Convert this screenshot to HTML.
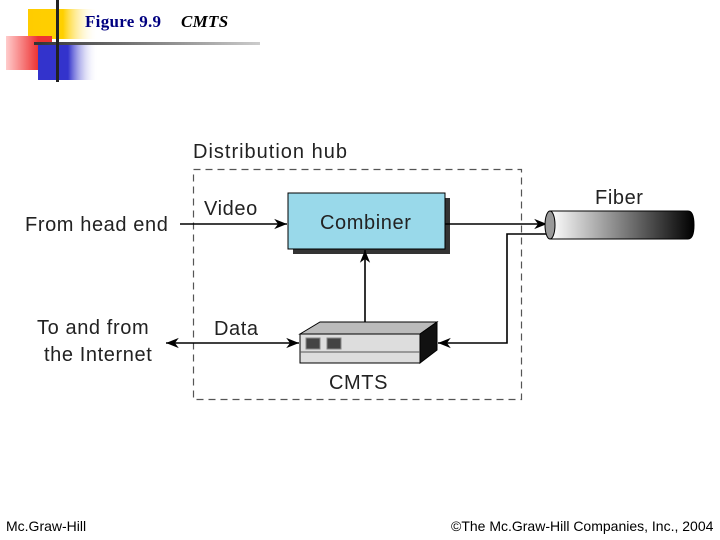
<!DOCTYPE html>
<html><head><style>
body{margin:0;width:720px;height:540px;background:#fff;position:relative;overflow:hidden;font-family:"Liberation Sans",sans-serif}
.t{position:absolute;white-space:nowrap}
.d{font-size:20px;letter-spacing:0.6px;color:#222}
</style></head><body>
<svg width="720" height="540" style="position:absolute;left:0;top:0">
<defs>
<linearGradient id="yg" x1="0" x2="1"><stop offset="0" stop-color="#ffcc00"/><stop offset="0.5" stop-color="#ffd000"/><stop offset="1" stop-color="#fff" stop-opacity="0"/></linearGradient>
<linearGradient id="rg" x1="0" x2="1"><stop offset="0" stop-color="#ffcccc"/><stop offset="0.7" stop-color="#ee3333"/><stop offset="1" stop-color="#ee3333"/></linearGradient>
<linearGradient id="bg" x1="0" x2="1"><stop offset="0" stop-color="#3333cc"/><stop offset="0.5" stop-color="#3333cc"/><stop offset="1" stop-color="#fff" stop-opacity="0"/></linearGradient>
<linearGradient id="lg" x1="0" x2="1"><stop offset="0" stop-color="#333"/><stop offset="1" stop-color="#ccc"/></linearGradient>
<linearGradient id="fg" x1="0" x2="1"><stop offset="0" stop-color="#fff"/><stop offset="1" stop-color="#000"/></linearGradient>
<marker id="a" viewBox="0 0 10 10" refX="10" refY="5" markerWidth="8" markerHeight="8" orient="auto-start-reverse"><path d="M0,1 L10,5 L0,9 L3,5z" fill="#000"/></marker>
</defs>
<rect x="28" y="9" width="70" height="30" fill="url(#yg)"/>
<rect x="6" y="36" width="46" height="34" fill="url(#rg)"/>
<rect x="38" y="44" width="60" height="36" fill="url(#bg)"/>
<rect x="34" y="42" width="226" height="3" fill="url(#lg)"/>
<rect x="56" y="0" width="3" height="82" fill="#222"/>
<rect x="193.5" y="169.5" width="328" height="230" fill="none" stroke="#555" stroke-width="1.2" stroke-dasharray="7,5"/>
<rect x="293" y="198" width="157" height="56" fill="#333"/>
<rect x="288" y="193" width="157" height="56" fill="#99d9ea" stroke="#000" stroke-width="1"/>
<line x1="180" y1="224" x2="287" y2="224" stroke="#000" stroke-width="1.6" marker-end="url(#a)"/>
<line x1="445" y1="224" x2="547" y2="224" stroke="#000" stroke-width="1.6" marker-end="url(#a)"/>
<polyline points="550,234 507,234 507,343 438,343" fill="none" stroke="#000" stroke-width="1.6" marker-end="url(#a)"/>
<line x1="365" y1="330" x2="365" y2="250" stroke="#000" stroke-width="1.6" marker-end="url(#a)"/>
<line x1="166" y1="343" x2="299" y2="343" stroke="#000" stroke-width="1.6" marker-start="url(#a)" marker-end="url(#a)"/>
<path d="M550,211 L688,211 Q694,211 694,225 Q694,239 688,239 L550,239 Z" fill="url(#fg)" stroke="#000"/>
<ellipse cx="550" cy="225" rx="5" ry="14" fill="#999" stroke="#000"/>
<polygon points="300,334 320,322 437,322 420,334" fill="#bbb" stroke="#000"/>
<polygon points="420,334 437,322 437,350 420,363" fill="#111" stroke="#000"/>
<rect x="300" y="334" width="120" height="29" fill="#ddd" stroke="#000"/>
<line x1="300" y1="352" x2="420" y2="352" stroke="#555"/>
<rect x="306" y="338" width="14" height="11" fill="#444" stroke="#888"/>
<rect x="327" y="338" width="14" height="11" fill="#444" stroke="#888"/>
</svg>
<div class="t" style="left:85px;top:12px;font:bold 17px 'Liberation Serif',serif;letter-spacing:0.3px;color:#000080">Figure 9.9</div>
<div class="t" style="left:181px;top:12px;font:italic bold 17px 'Liberation Serif',serif;letter-spacing:0.3px">CMTS</div>
<div class="t d" style="left:193px;top:141px;letter-spacing:1px">Distribution hub</div>
<div class="t d" style="left:25px;top:214px">From head end</div>
<div class="t d" style="left:204px;top:198px">Video</div>
<div class="t d" style="left:320px;top:212px">Combiner</div>
<div class="t d" style="left:595px;top:187px">Fiber</div>
<div class="t d" style="left:37px;top:317px">To and from</div>
<div class="t d" style="left:44px;top:344px">the Internet</div>
<div class="t d" style="left:214px;top:318px">Data</div>
<div class="t d" style="left:329px;top:372px">CMTS</div>
<div class="t" style="left:6px;top:518px;font-size:14px">Mc.Graw-Hill</div>
<div class="t" style="left:451px;top:518px;font-size:14px">©The Mc.Graw-Hill Companies, Inc., 2004</div>
</body></html>
